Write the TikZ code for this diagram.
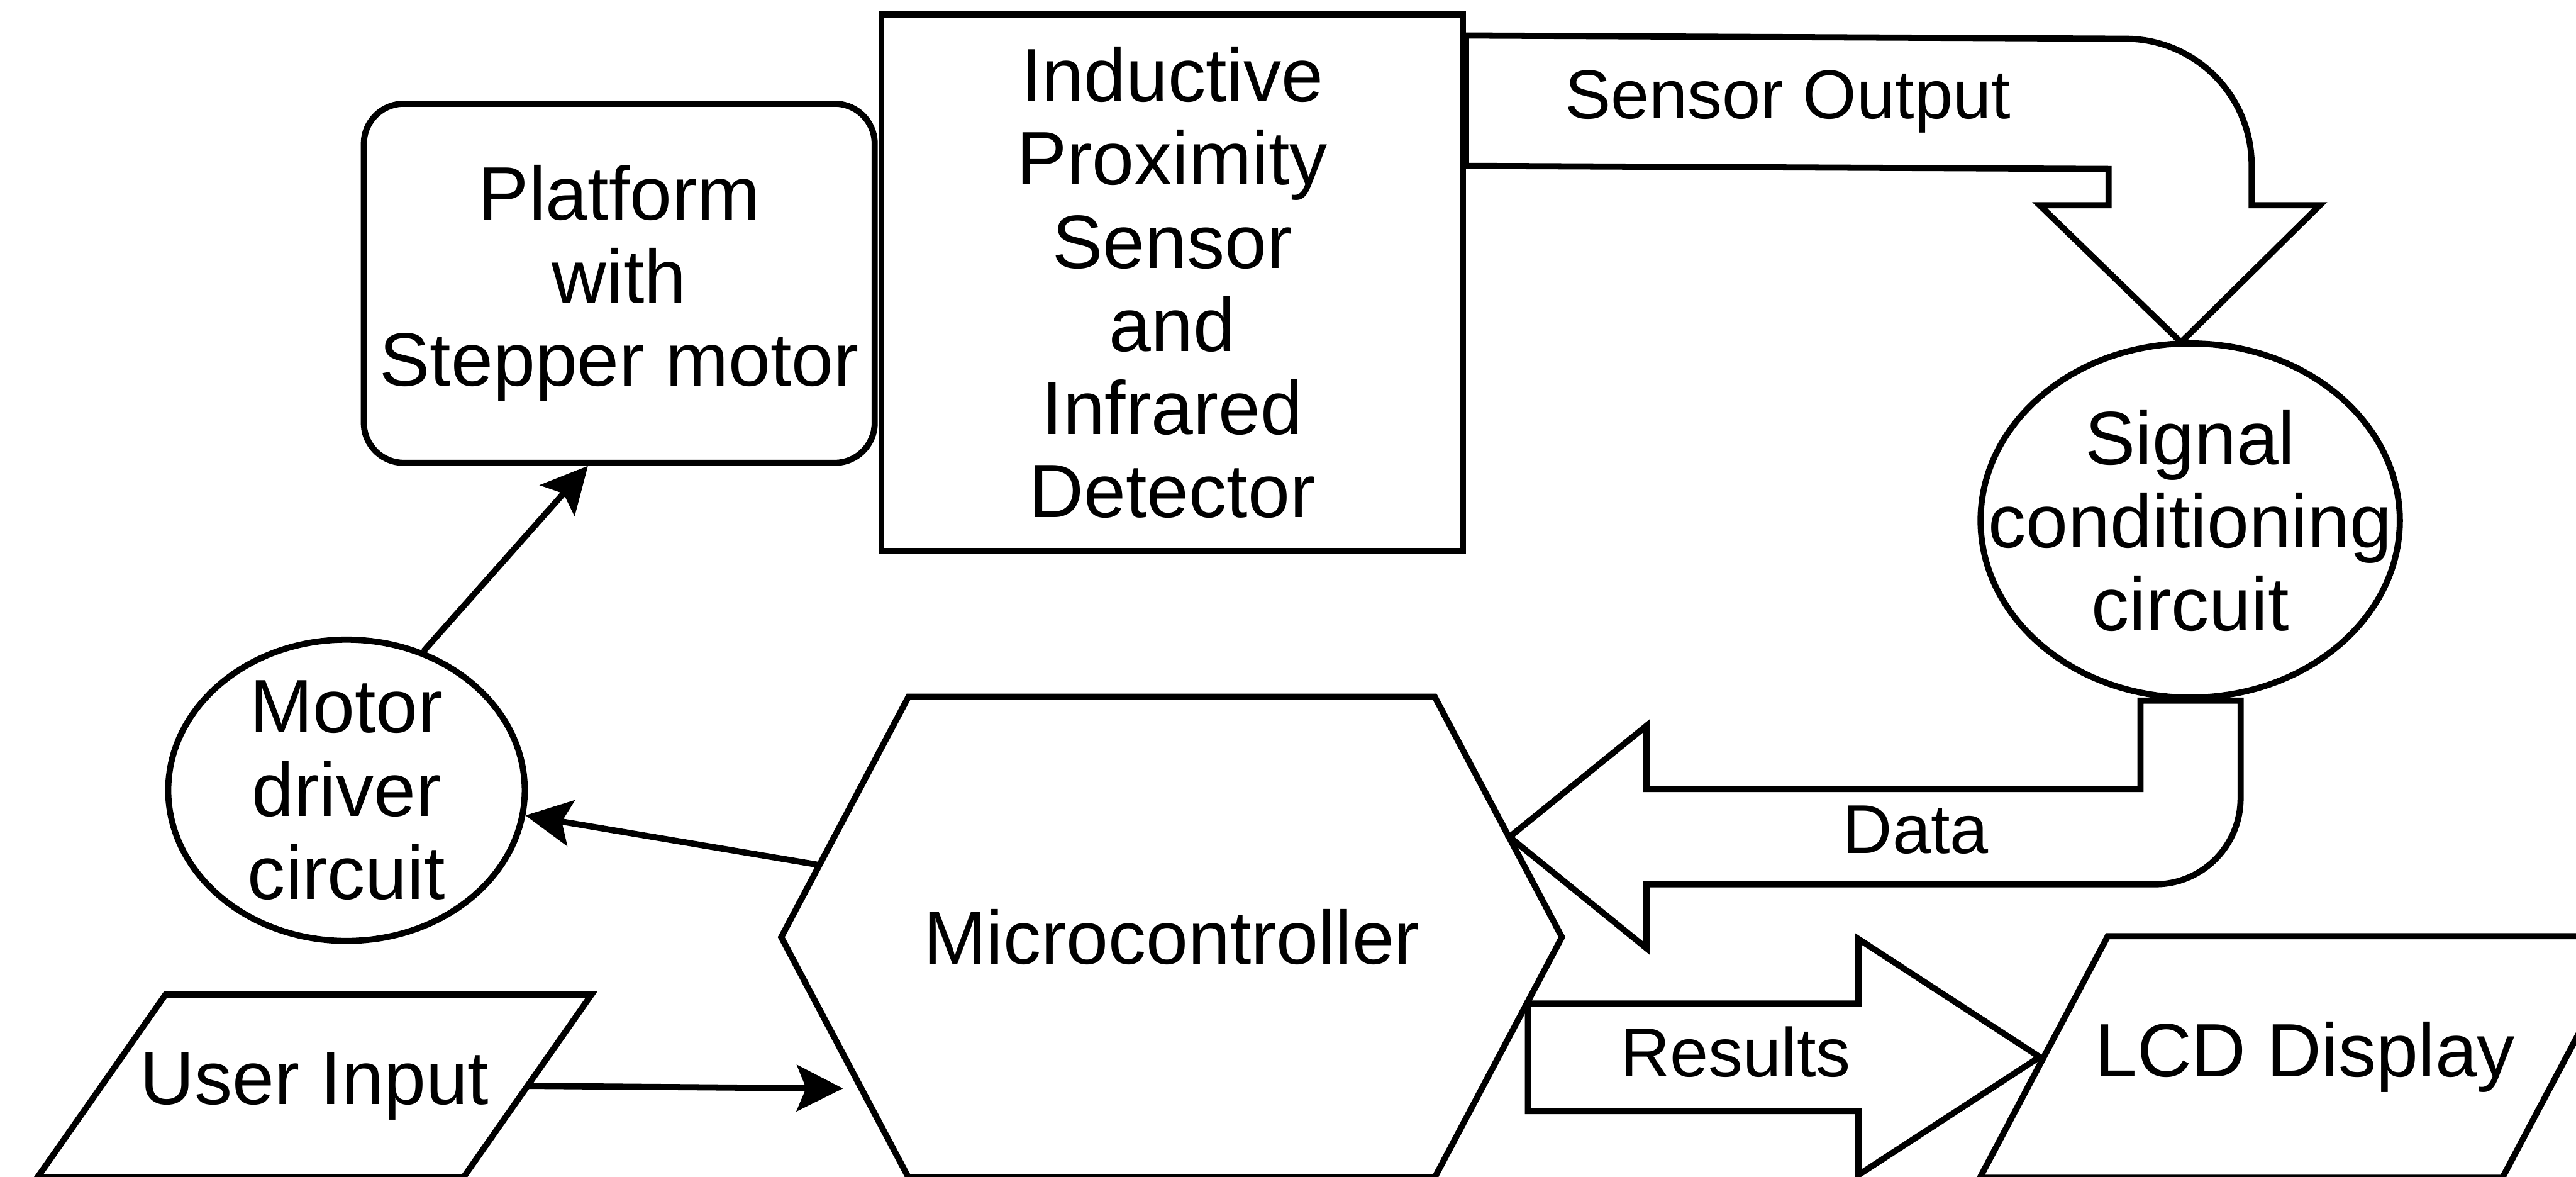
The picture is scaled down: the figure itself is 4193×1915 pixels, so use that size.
\documentclass[tikz,border=0pt]{standalone}
\usepackage{fontspec}
\setmainfont{Liberation Sans}
\usetikzlibrary{shapes.geometric,arrows.meta,calc}

\begin{document}
\begin{tikzpicture}[x = 0.01cm, y = -0.01cm, line width = 0.1cm,
  every node/.style = {font = \fontsize{35}{38.5}\selectfont, align = center, inner sep = 0},
  box/.style = {draw = black},
  oval/.style = {draw = black, ellipse},
  fat/.style = {draw = black, fill = white, line join = miter},
  tag/.style = {font = \fontsize{32}{36}\selectfont},
  link/.style = {-{Stealth[length = 0.75cm, width = 0.75cm, inset = 0.15cm]}}]
\pgfmathsetlengthmacro\ioslant{1.04cm};
\pgfmathsetlengthmacro\hexcut{2.07cm};
\useasboundingbox (0,0) rectangle (4193,1915);
% blocks
\node[box, rounded corners = 0.65cm, minimum width = 8.31cm, minimum height = 5.84cm] (platform) at (1008,461) {Platform\\with\\Stepper motor};
\node[box, minimum width = 9.46cm, minimum height = 8.72cm] (sensor) at (1908,460) {Inductive\\Proximity\\Sensor\\and\\Infrared\\Detector};
\node[oval, minimum width = 6.82cm, minimum height = 5.76cm, label = {center:Signal\\conditioning\\circuit}] (signal) at (3565,847) {};
\node[oval, minimum width = 5.80cm, minimum height = 4.90cm, label = {center:Motor\\driver\\circuit}] (motor) at (564,1286) {};
\node[minimum width = 12.60cm, minimum height = 7.72cm] (micro) at (1907,1525) {Microcontroller};
\draw (micro.west) -- ([xshift = \hexcut]micro.north west) -- ([xshift = -\hexcut]micro.north east) -- (micro.east) -- ([xshift = -\hexcut]micro.south east) -- ([xshift = \hexcut]micro.south west) -- cycle;
\node[minimum width = 6.83cm, minimum height = 2.87cm] (user) at (512,1767) {User Input};
\node[minimum width = 8.40cm, minimum height = 3.83cm] (lcd) at (3752,1720) {LCD Display};
\foreach \n in {user, lcd} \draw ([xshift = \ioslant]\n.north west) -- ([xshift = \ioslant]\n.north east) -- ([xshift = -\ioslant]\n.south east) -- ([xshift = -\ioslant]\n.south west) -- cycle;
% fat arrows
\draw[fat] ([yshift = -0.39cm]sensor.north east) -- (3459,63) .. controls (3573,63) and (3665,155) .. (3665,269) -- (3665,334) -- (3776,334) -- (3550,557) -- (3320,334) -- (3432,334) -- (3432,275) -- ([yshift = -2.51cm]sensor.north east) -- cycle;
\node[tag] (output) at (2910,165) {Sensor Output};
\draw[fat] (3484,1140) -- (3484,1284) -- (2680,1284) -- (2680,1181) -- (2457,1362) -- (2680,1543) -- (2680,1439) -- (3508,1439) .. controls (3585,1439) and (3647,1376) .. (3647,1299) -- (3647,1140) -- cycle;
\node[tag] (data) at (3118,1350) {Data};
\draw[fat] (2487,1633) -- (3025,1633) -- (3025,1528) -- (3320,1720) -- (3025,1912) -- (3025,1808) -- (2487,1808) -- cycle;
\node[tag] (results) at (2825,1712) {Results};
% thin arrows
\draw[link] (motor.61) -- ([xshift = -0.51cm]platform.south);
\draw[link] ($(micro.west)!0.3!([xshift = \hexcut]micro.north west)$) -- (motor.-8);
\draw[link, shorten > = 0.3cm] (user.east) -- ($(micro.west)!0.63!([xshift = \hexcut]micro.south west)$);
\end{tikzpicture}
\end{document}
